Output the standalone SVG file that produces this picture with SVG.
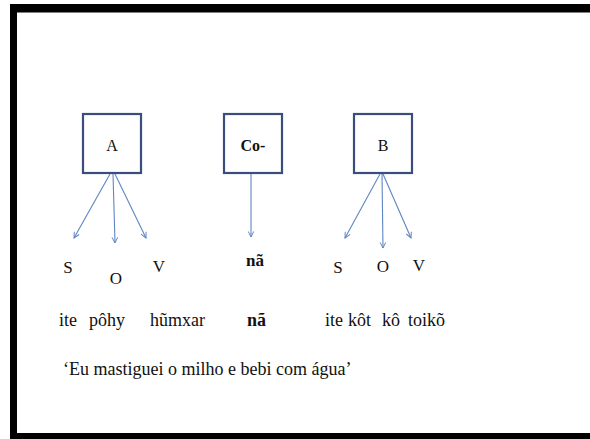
<svg xmlns="http://www.w3.org/2000/svg" width="590" height="439" viewBox="0 0 590 439">
  <style>
    .frame { fill: #000; }
    .box { fill: #fff; stroke: #3a4e7e; stroke-width: 2.2; }
    .arr { stroke: #5f86c2; stroke-width: 1.1; fill: none; marker-end: url(#head); }
    text { font-family: 'Liberation Serif', 'DejaVu Serif', 'Noto Serif', serif; fill: #111; }
  </style>
  <defs>
    <marker id="head" viewBox="0 0 10 10" refX="9" refY="5" markerWidth="7" markerHeight="7" orient="auto" markerUnits="userSpaceOnUse">
      <path d="M1,1 L9,5 L1,9" fill="none" stroke="#5f86c2" stroke-width="1.4"/>
    </marker>
  </defs>
  <rect width="590" height="439" fill="#fff"/>
  <g id="frame">
    <rect class="frame" x="10" y="4" width="580" height="8.5"/>
    <rect class="frame" x="10" y="4" width="7" height="435"/>
    <rect class="frame" x="10" y="433" width="580" height="6"/>
  </g>
  <g id="connectors">
    <line class="arr" x1="110" y1="174" x2="74" y2="238"/>
    <line class="arr" x1="113" y1="174" x2="115" y2="243"/>
    <line class="arr" x1="115" y1="174" x2="146" y2="238"/>
    <line class="arr" x1="251" y1="174" x2="251" y2="237"/>
    <line class="arr" x1="380" y1="174" x2="345" y2="238"/>
    <line class="arr" x1="382" y1="174" x2="383" y2="248"/>
    <line class="arr" x1="383" y1="174" x2="411" y2="238"/>
  </g>
  <g id="node-A">
    <rect class="box" x="83" y="114" width="58" height="59"/>
    <text x="112" y="151" font-size="16" text-anchor="middle">A</text>
  </g>
  <g id="node-Co">
    <rect class="box" x="224" y="114" width="58" height="59"/>
    <text x="253" y="151" font-size="16" font-weight="bold" text-anchor="middle">Co-</text>
  </g>
  <g id="node-B">
    <rect class="box" x="354" y="114" width="58" height="59"/>
    <text x="383" y="151" font-size="16" text-anchor="middle">B</text>
  </g>
  <g id="labels" font-size="17" text-anchor="middle">
    <text x="68" y="273">S</text>
    <text x="116" y="284">O</text>
    <text x="159" y="272">V</text>
    <text x="255" y="266" font-weight="bold">nã</text>
    <text x="338" y="273">S</text>
    <text x="383" y="272">O</text>
    <text x="419" y="271">V</text>
  </g>
  <g id="words" font-size="18">
    <text x="59" y="326">ite</text>
    <text x="89" y="326">pôhy</text>
    <text x="150" y="326">hũmxar</text>
    <text x="247" y="326" font-weight="bold">nã</text>
    <text x="325" y="326">ite</text>
    <text x="348" y="326">kôt</text>
    <text x="382" y="326">kô</text>
    <text x="408" y="326">toikõ</text>
    <text x="63" y="375">‘Eu mastiguei o milho e bebi com água’</text>
  </g>
</svg>
